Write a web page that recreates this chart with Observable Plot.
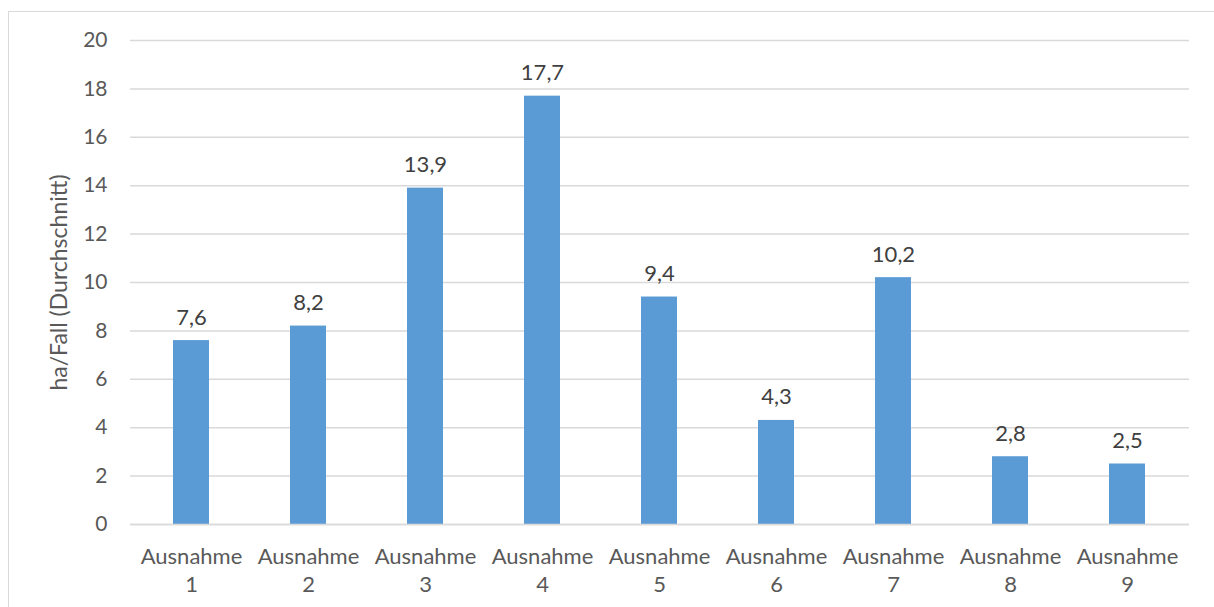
<!DOCTYPE html>
<html>
<head>
<meta charset="utf-8">
<script src="https://cdn.jsdelivr.net/npm/d3@7"></script>
<script src="https://cdn.jsdelivr.net/npm/@observablehq/plot@0.6"></script>
<style>
  html, body { margin: 0; padding: 0; background: #fff; overflow: hidden; }
  #wrap { position: relative; width: 1214px; height: 607px; }
  #border { position: absolute; left: 8px; top: 11px; width: 1220px; height: 620px; border: 1px solid #d9d9d9; box-sizing: border-box; }
  #chart { position: absolute; left: 0; top: 0; }
</style>
</head>
<body>
<div id="wrap"><div id="border"></div><div id="chart"></div></div>
<script>
const categories = ["Ausnahme 1", "Ausnahme 2", "Ausnahme 3", "Ausnahme 4", "Ausnahme 5", "Ausnahme 6", "Ausnahme 7", "Ausnahme 8", "Ausnahme 9"];
const values = [7.6, 8.2, 13.9, 17.7, 9.4, 4.3, 10.2, 2.8, 2.5];
const yTicks = [0, 2, 4, 6, 8, 10, 12, 14, 16, 18, 20];
const yLabel = "ha/Fall (Durchschnitt)";

const data = categories.map((c, i) => ({category: c, value: values[i]}));
const fmt = v => v.toFixed(1).replace(".", ",");

const chart = Plot.plot({
  width: 1214,
  height: 607,
  marginLeft: 130,
  marginRight: 25,
  marginTop: 40,
  marginBottom: 83,
  style: {fontFamily: "Lato, sans-serif", fontSize: "21px", color: "#595959", background: "transparent", overflow: "visible"},
  x: {domain: categories, paddingInner: 0.69, paddingOuter: 0.345},
  y: {domain: [0, 20]},
  marks: [
    Plot.gridY(yTicks, {stroke: "#d9d9d9", strokeOpacity: 1, strokeWidth: 1.5}),
    Plot.axisY(yTicks, {tickSize: 0, tickPadding: 23, fontSize: 21, label: null}),
    Plot.text([yLabel], {frameAnchor: "left", dx: -71, rotate: -90, fontSize: 23, fill: "#595959", textAnchor: "middle"}),
    Plot.axisX({tickSize: 0, tickPadding: 20, fontSize: 22, lineHeight: 1.25, label: null, tickFormat: d => d.replace(" ", "\n")}),
    Plot.barY(data, {x: "category", y: "value", fill: "#5b9bd5"}),
    Plot.ruleY([0], {stroke: "#d9d9d9", strokeWidth: 1.5}),
    Plot.text(data, {x: "category", y: "value", text: d => fmt(d.value), dy: -23, fill: "#404040", fontSize: 22, lineAnchor: "middle"})
  ]
});
document.getElementById("chart").appendChild(chart);
</script>
</body>
</html>
